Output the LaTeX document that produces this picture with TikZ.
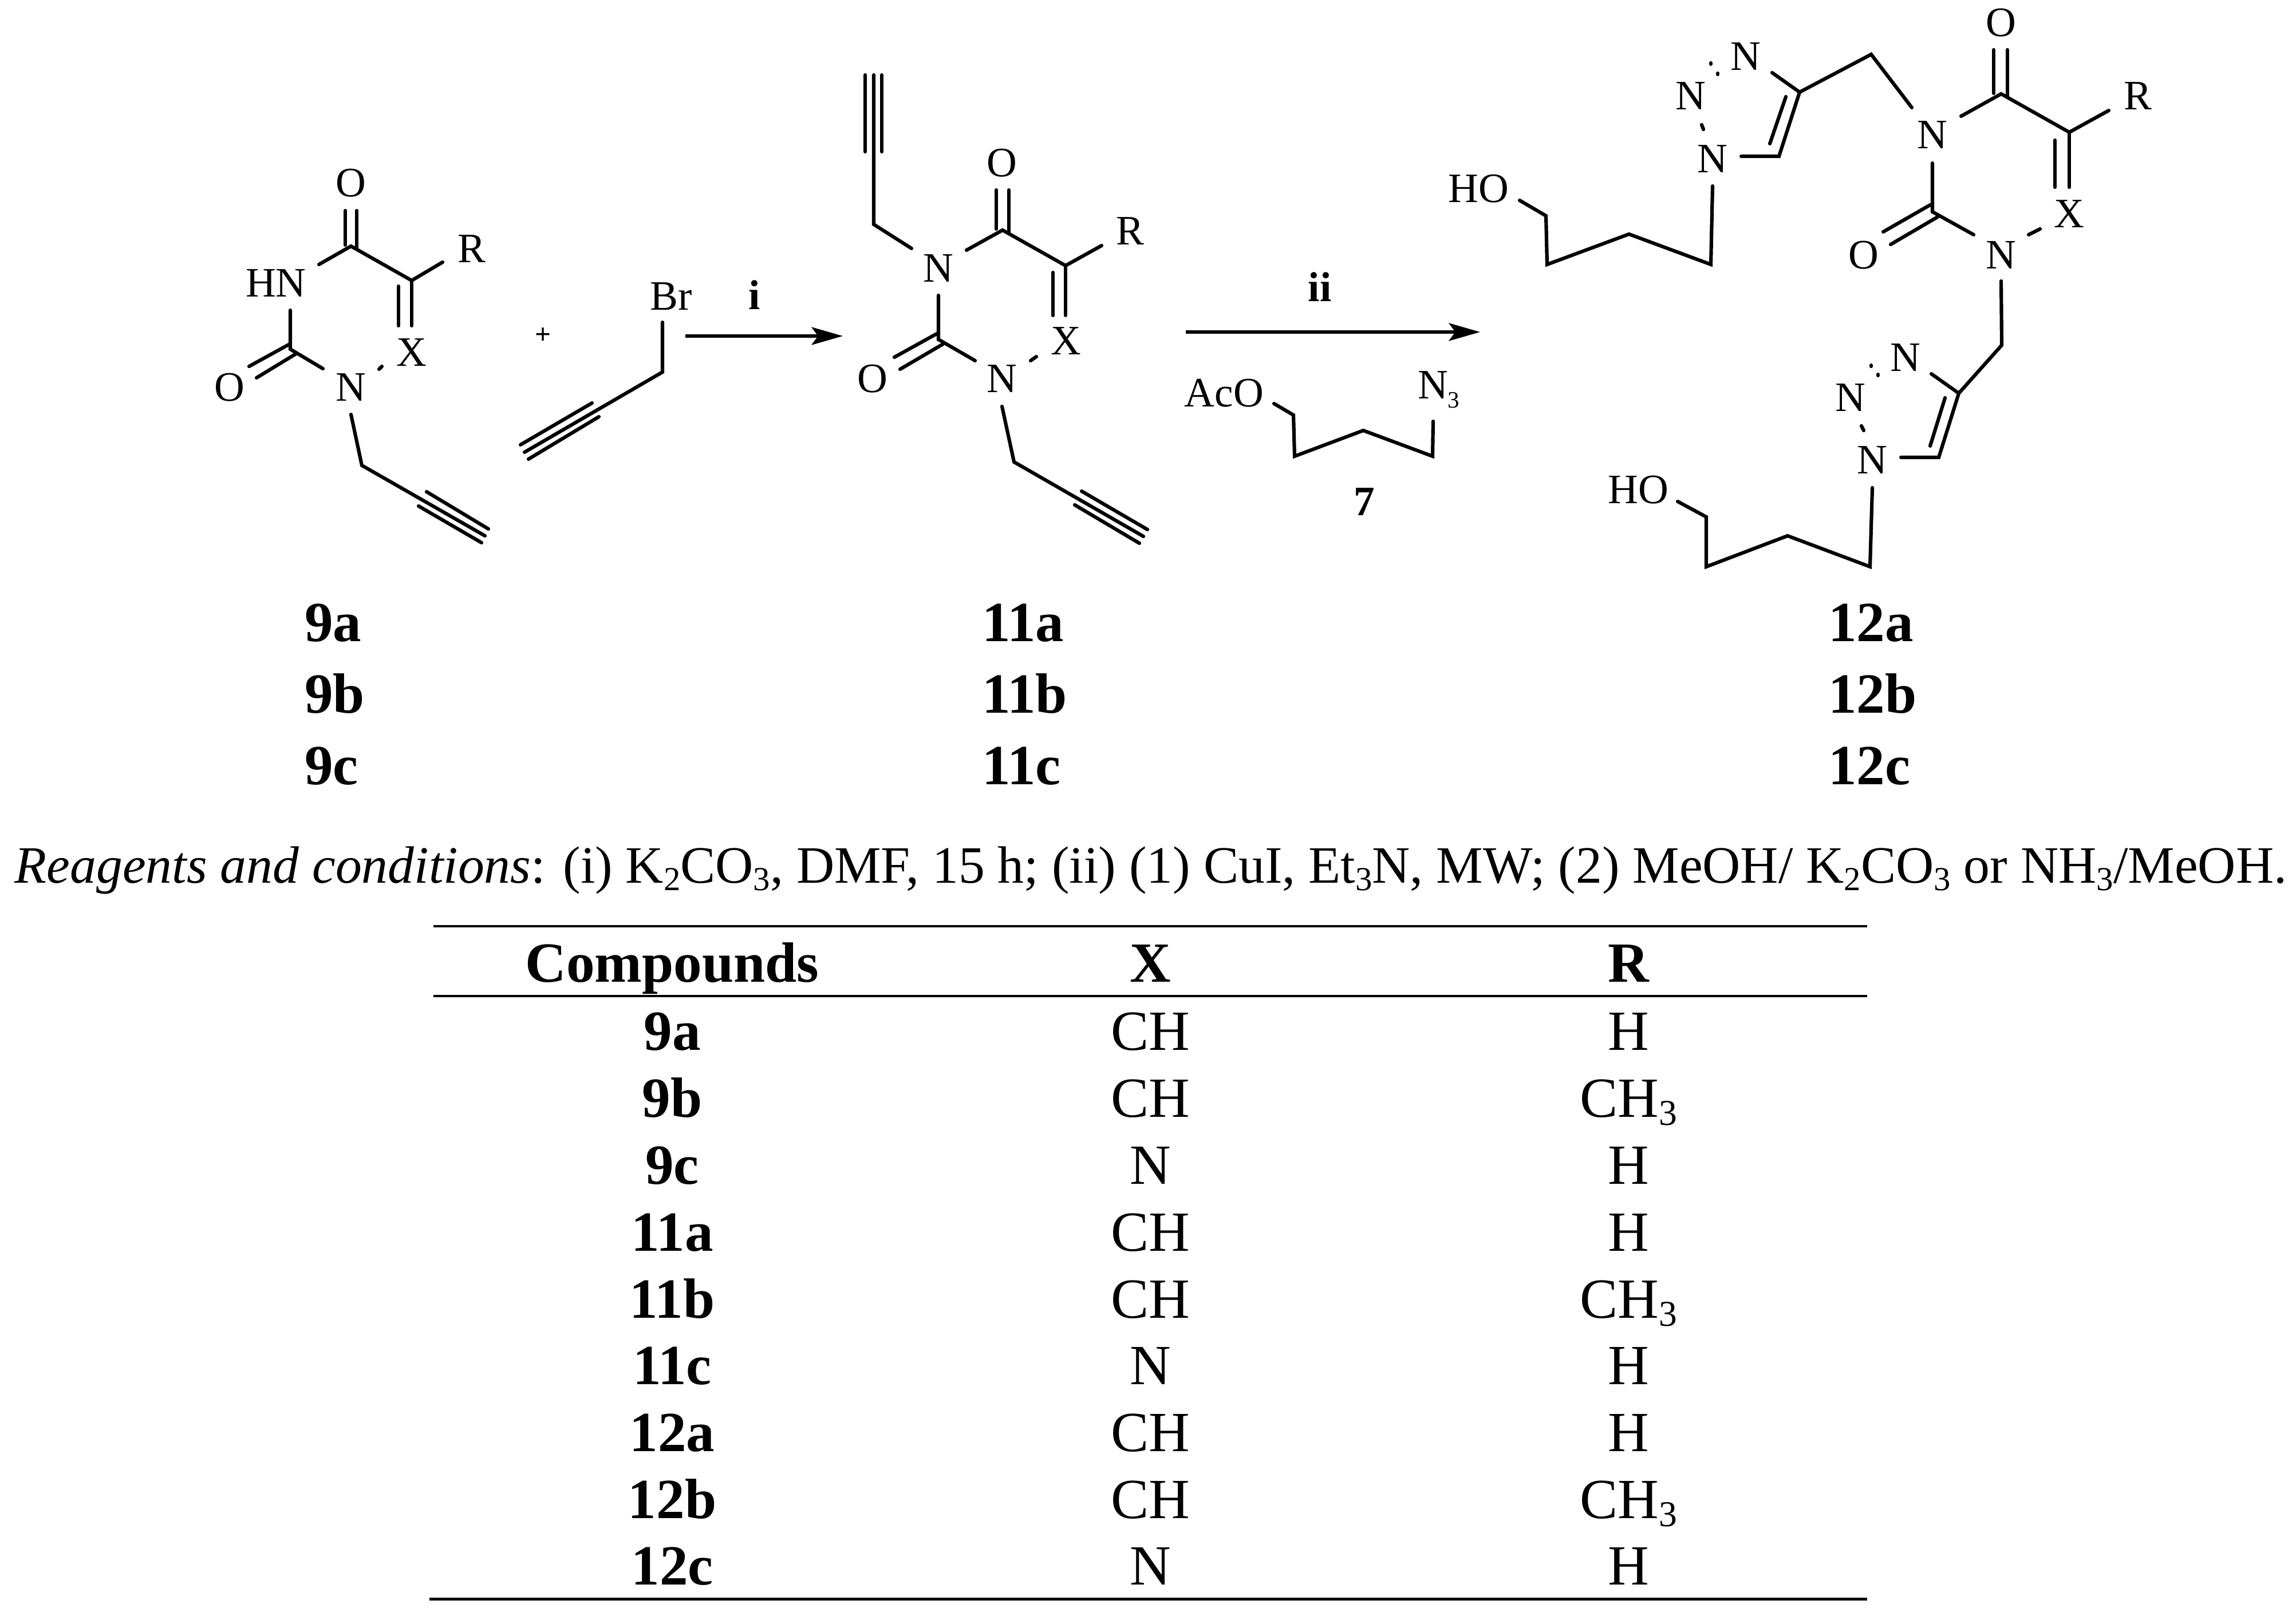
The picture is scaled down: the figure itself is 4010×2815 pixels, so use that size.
\documentclass[tikz,border=0pt]{standalone}
\usepackage{fontspec}
\usepackage{graphicx}
\usetikzlibrary{arrows.meta}
\setmainfont{Liberation Serif}
\newcommand{\fsz}[1]{\fontsize{#1pt}{#1pt}\selectfont}
\newcommand{\sbs}[1]{\raisebox{-0.15em}{\scalebox{0.64}{#1}}}
\tikzset{
  bond/.style={line width=1.75pt,line cap=round,line join=miter,black},
  rxn/.style={line width=1.6pt,black,-{Stealth[length=15.5pt,width=8.8pt,inset=3.2pt]}},
  atom/.style={inner sep=0pt,outer sep=0pt,font=\fsz{20.8}},
  atomb/.style={inner sep=0pt,outer sep=0pt,font=\fsz{20.8}\bfseries,anchor=base},
  cmp/.style={inner sep=0pt,outer sep=0pt,font=\fsz{28.2}\bfseries,anchor=base},
  cmpl/.style={inner sep=0pt,outer sep=0pt,font=\fsz{28.2}\bfseries,anchor=base west},
  cell/.style={inner sep=0pt,outer sep=0pt,font=\fsz{28.2},anchor=base},
  rule/.style={line width=1.4pt,black},
}
\begin{document}
\begin{tikzpicture}[x=0.01cm,y=-0.01cm]
\useasboundingbox (0,0) rectangle (4010,2815);
\fill[white] (0,0) rectangle (4010,2815);

% ---------- compound 9 ----------
\node[atom] (aO1) at (613,320) {O};
\node[atom] (aHN) at (482,495) {HN};
\node[atom] (aR) at (824,435) {R};
\node[atom] (aX) at (719,616) {X};
\node[atom] (aO2) at (401,677) {O};
\node[atom] (aN) at (613,677) {N};
\coordinate (ac4) at (613,430); \coordinate (ac5) at (719,490); \coordinate (ac2) at (507,610);
\coordinate (ao1a) at (603,368); \coordinate (ao1b) at (603,428);
\coordinate (ao1c) at (623,368); \coordinate (ao1d) at (623,434);
\coordinate (ah1) at (557,462); \coordinate (ar1) at (773,458);
\coordinate (ax1) at (719,569); \coordinate (ax2) at (696,500); \coordinate (ax3) at (696,569);
\coordinate (ah2) at (507,542);
\coordinate (ao2a) at (506,601); \coordinate (ao2b) at (435,640);
\coordinate (ao2c) at (517,618); \coordinate (ao2d) at (448,660);
\coordinate (an1) at (564,644); \coordinate (ad1) at (662,645); \coordinate (ad2) at (667,640);
\coordinate (an2) at (613,724); \coordinate (ach) at (632,813); \coordinate (ay0) at (847,936);
\coordinate (ay1) at (745,859); \coordinate (ay2) at (853,924);
\coordinate (ay3) at (731,884); \coordinate (ay4) at (841,948);
\draw[bond] (ao1a) -- (ao1b); \draw[bond] (ao1c) -- (ao1d);
\draw[bond] (ah1) -- (ac4) -- (ac5) -- (ar1);
\draw[bond] (ac5) -- (ax1); \draw[bond] (ax2) -- (ax3);
\draw[bond] (ah2) -- (ac2) -- (an1);
\draw[bond] (ao2a) -- (ao2b); \draw[bond] (ao2c) -- (ao2d);
\draw[bond] (ad1) -- (ad2);
\draw[bond] (an2) -- (ach) -- (ay0);
\draw[bond] (ay1) -- (ay2); \draw[bond] (ay3) -- (ay4);

\node[inner sep=0pt,font=\fsz{14}\bfseries] (plus) at (949,587) {+};

% ---------- propargyl bromide ----------
\node[atom] (br) at (1172,518) {Br};
\coordinate (br1) at (1157,563); \coordinate (br2) at (1157,650); \coordinate (br3) at (916,790);
\coordinate (br4) at (1034,704); \coordinate (br5) at (909,777);
\coordinate (br6) at (1046,728); \coordinate (br7) at (923,802);
\draw[bond] (br1) -- (br2) -- (br3);
\draw[bond] (br4) -- (br5); \draw[bond] (br6) -- (br7);

% ---------- arrow i ----------
\node[atomb] (li) at (1318,540) {i};
\coordinate (ar1s) at (1197,587); \coordinate (ar1e) at (1472,587);
\draw[rxn] (ar1s) -- (ar1e);

% ---------- compound 11 ----------
\node[atom] (bN1) at (1639,469) {N};
\node[atom] (bO1) at (1750,285) {O};
\node[atom] (bR) at (1974,404) {R};
\node[atom] (bX) at (1862,596) {X};
\node[atom] (bO2) at (1524,662) {O};
\node[atom] (bN2) at (1750,662) {N};
\coordinate (bt0) at (1526,131); \coordinate (bt1) at (1511,131); \coordinate (bt2) at (1511,265);
\coordinate (bt3) at (1540,131); \coordinate (bt4) at (1540,265);
\coordinate (bch1) at (1526,392); \coordinate (bn1a) at (1592,434);
\coordinate (bn1b) at (1688,437); \coordinate (bc4) at (1751,402);
\coordinate (bo1a) at (1740,332); \coordinate (bo1b) at (1740,400);
\coordinate (bo1c) at (1762,332); \coordinate (bo1d) at (1762,405);
\coordinate (bc5) at (1861,464); \coordinate (br1b) at (1924,429);
\coordinate (bx1) at (1861,551); \coordinate (bx2) at (1839,476); \coordinate (bx3) at (1839,551);
\coordinate (bn1c) at (1639,516); \coordinate (bc2) at (1639,593); \coordinate (bn2a) at (1703,630);
\coordinate (bo2a) at (1636,583); \coordinate (bo2b) at (1562,624);
\coordinate (bo2c) at (1647,601); \coordinate (bo2d) at (1572,645);
\coordinate (bd1) at (1800,630); \coordinate (bd2) at (1810,623);
\coordinate (bn2b) at (1750,710); \coordinate (bch2) at (1771,807); \coordinate (by0) at (1997,937);
\coordinate (by1) at (1889,858); \coordinate (by2) at (2004,925);
\coordinate (by3) at (1877,882); \coordinate (by4) at (1990,949);
\draw[bond] (bt0) -- (bch1) -- (bn1a);
\draw[bond] (bt1) -- (bt2); \draw[bond] (bt3) -- (bt4);
\draw[bond] (bn1b) -- (bc4) -- (bc5) -- (br1b);
\draw[bond] (bo1a) -- (bo1b); \draw[bond] (bo1c) -- (bo1d);
\draw[bond] (bc5) -- (bx1); \draw[bond] (bx2) -- (bx3);
\draw[bond] (bn1c) -- (bc2) -- (bn2a);
\draw[bond] (bo2a) -- (bo2b); \draw[bond] (bo2c) -- (bo2d);
\draw[bond] (bd1) -- (bd2);
\draw[bond] (bn2b) -- (bch2) -- (by0);
\draw[bond] (by1) -- (by2); \draw[bond] (by3) -- (by4);

% ---------- arrow ii + reagent 7 ----------
\node[atomb] (lii) at (2305,526) {ii};
\coordinate (ar2s) at (2071,580); \coordinate (ar2e) at (2585,580);
\draw[rxn] (ar2s) -- (ar2e);
\node[atom] (aco) at (2138,687) {AcO};
\node[atom,anchor=base west] (n3) at (2476,696) {N\raisebox{-0.23em}{\scalebox{0.56}{3}}};
\coordinate (r1) at (2225,705); \coordinate (r2) at (2259,725); \coordinate (r3) at (2261,797);
\coordinate (r4) at (2381,752); \coordinate (r5) at (2502,797); \coordinate (r6) at (2503,736);
\draw[bond] (r1) -- (r2) -- (r3) -- (r4) -- (r5) -- (r6);
\node[atomb] (l7) at (2383,900) {7};

% ---------- compound 12 ----------
\node[atom] (cO1) at (3495,40) {O};
\node[atom] (cR) at (3734,168) {R};
\node[atom] (cX) at (3614,374) {X};
\node[atom] (cN1) at (3375,236) {N};
\node[atom] (cO2) at (3255,446) {O};
\node[atom] (cN2) at (3495,446) {N};
\coordinate (co1a) at (3482,87); \coordinate (co1b) at (3482,163);
\coordinate (co1c) at (3506,87); \coordinate (co1d) at (3506,168);
\coordinate (cc4) at (3495,164); \coordinate (cc5) at (3614,231); \coordinate (cr1) at (3683,193);
\coordinate (cx1) at (3614,327); \coordinate (cx2) at (3589,245); \coordinate (cx3) at (3589,327);
\coordinate (cn1a) at (3425,203); \coordinate (cn1b) at (3375,285); \coordinate (cc2) at (3375,370);
\coordinate (co2a) at (3371,358); \coordinate (co2b) at (3289,405);
\coordinate (co2c) at (3384,379); \coordinate (co2d) at (3302,427);
\coordinate (cn2a) at (3447,410); \coordinate (cd1) at (3543,410); \coordinate (cd2) at (3563,400);
\draw[bond] (co1a) -- (co1b); \draw[bond] (co1c) -- (co1d);
\draw[bond] (cn1a) -- (cc4) -- (cc5) -- (cr1);
\draw[bond] (cc5) -- (cx1); \draw[bond] (cx2) -- (cx3);
\draw[bond] (cn1b) -- (cc2) -- (cn2a);
\draw[bond] (co2a) -- (co2b); \draw[bond] (co2c) -- (co2d);
\draw[bond] (cd1) -- (cd2);

% upper triazole arm
\node[atom] (dN3) at (3049,99) {N};
\node[atom] (dN2) at (2953,168) {N};
\node[atom] (dN1) at (2991,278) {N};
\node[atom] (dHO) at (2582,330) {HO};
\coordinate (d1) at (3339,188); \coordinate (d2) at (3268,95); \coordinate (d3) at (3143,161);
\coordinate (d4) at (3095,127); \coordinate (d5) at (3041,273); \coordinate (d6) at (3107,273);
\coordinate (d7) at (3091,251); \coordinate (d8) at (3119,169);
\coordinate (dp1) at (2988,110); \coordinate (dp2) at (2988,112);
\coordinate (dp3) at (3000,128); \coordinate (dp4) at (3000,130);
\coordinate (dp5) at (2972,218); \coordinate (dp6) at (2975,226);
\coordinate (d9) at (2991,325); \coordinate (d10) at (2988,462); \coordinate (d11) at (2845,409);
\coordinate (d12) at (2702,462); \coordinate (d13) at (2700,377); \coordinate (d14) at (2654,350);
\draw[bond] (d1) -- (d2) -- (d3) -- (d4);
\draw[bond] (d5) -- (d6) -- (d3);
\draw[bond] (d7) -- (d8);
\draw[bond] (dp1) -- (dp2); \draw[bond] (dp3) -- (dp4); \draw[bond] (dp5) -- (dp6);
\draw[bond] (d9) -- (d10) -- (d11) -- (d12) -- (d13) -- (d14);

% lower triazole arm
\node[atom] (eN3) at (3328,625) {N};
\node[atom] (eN2) at (3232,695) {N};
\node[atom] (eN1) at (3270,804) {N};
\node[atom] (eHO) at (2861,856) {HO};
\coordinate (e1) at (3495,491); \coordinate (e2) at (3496,603); \coordinate (e3) at (3421,687);
\coordinate (e4) at (3373,653); \coordinate (e5) at (3320,799); \coordinate (e6) at (3386,799);
\coordinate (e7) at (3371,779); \coordinate (e8) at (3397,695);
\coordinate (ep1) at (3268,638); \coordinate (ep2) at (3268,640);
\coordinate (ep3) at (3280,654); \coordinate (ep4) at (3280,656);
\coordinate (ep5) at (3251,744); \coordinate (ep6) at (3255,752);
\coordinate (e9) at (3270,852); \coordinate (e10) at (3266,990); \coordinate (e11) at (3122,936);
\coordinate (e12) at (2980,990); \coordinate (e13) at (2980,903); \coordinate (e14) at (2930,876);
\draw[bond] (e1) -- (e2) -- (e3) -- (e4);
\draw[bond] (e5) -- (e6) -- (e3);
\draw[bond] (e7) -- (e8);
\draw[bond] (ep1) -- (ep2); \draw[bond] (ep3) -- (ep4); \draw[bond] (ep5) -- (ep6);
\draw[bond] (e9) -- (e10) -- (e11) -- (e12) -- (e13) -- (e14);

% ---------- compound numbers ----------
\node[cmpl] (n9a) at (532,1120) {9a};
\node[cmpl] (n9b) at (532,1245) {9b};
\node[cmpl] (n9c) at (532,1370) {9c};
\node[cmpl] (n11a) at (1715,1120) {11a};
\node[cmpl] (n11b) at (1715,1245) {11b};
\node[cmpl] (n11c) at (1715,1370) {11c};
\node[cmpl] (n12a) at (3193,1120) {12a};
\node[cmpl] (n12b) at (3193,1245) {12b};
\node[cmpl] (n12c) at (3193,1370) {12c};

% ---------- conditions ----------
\node[inner sep=0pt,anchor=base west,font=\fsz{26.08}] (cond) at (25,1542)
 {\textit{Reagents and conditions}: (i) K\sbs{2}CO\sbs{3}, DMF, 15 h; (ii) (1) CuI, Et\sbs{3}N, MW; (2) MeOH/ K\sbs{2}CO\sbs{3} or NH\sbs{3}/MeOH.};

% ---------- table ----------
\coordinate (t1) at (757,1618); \coordinate (t2) at (3261,1618);
\coordinate (t3) at (757,1740); \coordinate (t4) at (3261,1740);
\coordinate (t5) at (750,2793); \coordinate (t6) at (3261,2793);
\draw[rule] (t1) -- (t2); \draw[rule] (t3) -- (t4); \draw[rule] (t5) -- (t6);
\node[cmp] (h1) at (1174,1715) {Compounds};
\node[cmp] (h2) at (2009,1715) {X};
\node[cmp] (h3) at (2844,1715) {R};
\foreach \nm/\xx/\rr/\yy in {9a/CH/H/1834, 9b/CH/CH\sbs{3}/1951, 9c/N/H/2068,
  11a/CH/H/2185, 11b/CH/CH\sbs{3}/2302, 11c/N/H/2418,
  12a/CH/H/2535, 12b/CH/CH\sbs{3}/2652, 12c/N/H/2768}{
  \node[cmp] (ta\nm) at (1174,\yy) {\nm};
  \node[cell] (tb\nm) at (2009,\yy) {\xx};
  \node[cell] (tc\nm) at (2844,\yy) {\rr};
}
\end{tikzpicture}
\end{document}
